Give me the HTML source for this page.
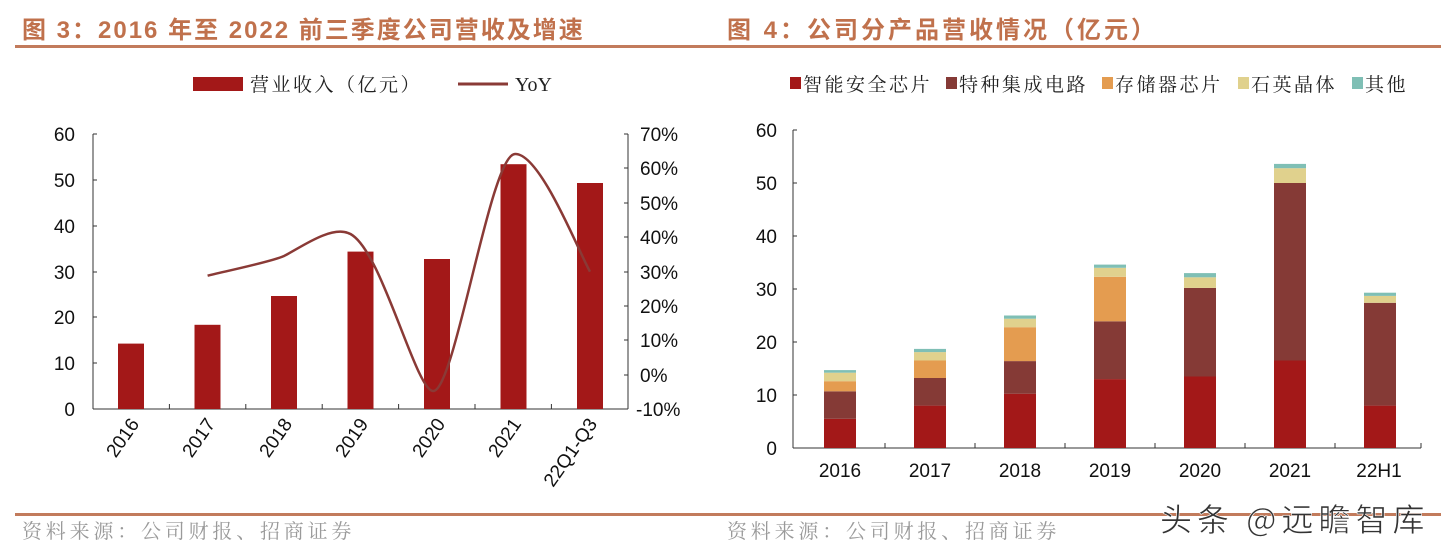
<!DOCTYPE html>
<html><head><meta charset="utf-8"><style>
html,body{margin:0;padding:0;background:#fff;}
svg{display:block;font-family:"Liberation Sans","Noto Sans CJK SC",sans-serif;}
.cn{font-family:"Noto Serif CJK SC","Noto Sans CJK SC",serif;}
</style></head><body>
<svg width="1456" height="556" viewBox="0 0 1456 556" xmlns="http://www.w3.org/2000/svg">
<text x="22" y="38" font-size="24" letter-spacing="2" font-weight="bold" fill="#c0714c" font-family="Liberation Sans,'Noto Sans CJK SC',sans-serif">图 3：2016 年至 2022 前三季度公司营收及增速</text>
<text x="727" y="38" font-size="24" letter-spacing="3" font-weight="bold" fill="#c0714c" font-family="Liberation Sans,'Noto Sans CJK SC',sans-serif">图 4：公司分产品营收情况（亿元）</text>
<rect x="15" y="45" width="1426" height="3" fill="#c27b5c"/>
<rect x="15" y="513" width="1426" height="3" fill="#c27b5c"/>
<text x="22" y="538" font-size="20" letter-spacing="3.8" fill="#9a9a9a" class="cn">资料来源：公司财报、招商证券</text>
<text x="727" y="538" font-size="20" letter-spacing="3.8" fill="#9a9a9a" class="cn">资料来源：公司财报、招商证券</text>
<text x="1160" y="531" font-size="32" letter-spacing="5" fill="#333" stroke="#fff" stroke-width="0.6" font-family="'Noto Sans CJK SC',sans-serif">头条 @远瞻智库</text>

<rect x="193" y="77" width="50" height="14" fill="#a31818"/>
<text x="250" y="91" font-size="19" letter-spacing="2.5" fill="#222" class="cn">营业收入（亿元）</text>
<line x1="458" y1="84" x2="508" y2="84" stroke="#8a3a36" stroke-width="3"/>
<text x="515" y="91" font-size="20" fill="#222" font-family="Liberation Serif,serif">YoY</text>

<g stroke="#333" stroke-width="1" fill="none">
<line x1="93" y1="134" x2="93" y2="409"/>
<line x1="628" y1="134" x2="628" y2="409"/>
<line x1="93" y1="409" x2="628" y2="409"/>
</g>
<g stroke="#333" stroke-width="1">
<line x1="93" y1="134" x2="97" y2="134"/><line x1="93" y1="180" x2="97" y2="180"/><line x1="93" y1="226" x2="97" y2="226"/><line x1="93" y1="272" x2="97" y2="272"/><line x1="93" y1="317" x2="97" y2="317"/><line x1="93" y1="363" x2="97" y2="363"/>
<line x1="624" y1="134" x2="628" y2="134"/><line x1="624" y1="168" x2="628" y2="168"/><line x1="624" y1="203" x2="628" y2="203"/><line x1="624" y1="237" x2="628" y2="237"/><line x1="624" y1="272" x2="628" y2="272"/><line x1="624" y1="306" x2="628" y2="306"/><line x1="624" y1="340" x2="628" y2="340"/><line x1="624" y1="375" x2="628" y2="375"/>
<line x1="169.4" y1="409" x2="169.4" y2="404"/><line x1="245.8" y1="409" x2="245.8" y2="404"/><line x1="322.2" y1="409" x2="322.2" y2="404"/><line x1="398.6" y1="409" x2="398.6" y2="404"/><line x1="475" y1="409" x2="475" y2="404"/><line x1="551.4" y1="409" x2="551.4" y2="404"/>
</g>
<g font-size="19" fill="#111" text-anchor="end">
<text x="75" y="141">60</text><text x="75" y="187">50</text><text x="75" y="233">40</text><text x="75" y="279">30</text><text x="75" y="324">20</text><text x="75" y="370">10</text><text x="75" y="416">0</text>
</g>
<g font-size="19" fill="#111">
<text x="640" y="141">70%</text><text x="640" y="175">60%</text><text x="640" y="210">50%</text><text x="640" y="244">40%</text><text x="640" y="279">30%</text><text x="640" y="313">20%</text><text x="640" y="347">10%</text><text x="640" y="382">0%</text><text x="636" y="416">-10%</text>
</g>
<g fill="#a31818">
<rect x="118" y="343.6" width="26" height="65.4"/>
<rect x="194.5" y="324.8" width="26" height="84.2"/>
<rect x="271" y="296" width="26" height="113"/>
<rect x="347.5" y="251.6" width="26" height="157.4"/>
<rect x="424" y="259" width="26" height="150"/>
<rect x="500.5" y="164.2" width="26" height="244.8"/>
<rect x="577" y="183" width="26" height="226"/>
</g>
<path d="M207.6,275.7 C220,272.4 271,262 284,256 C300,248 330,226 348,233 C380,243 415,390 433,391 C455,392 490,155 515,154 C540,153 578,250 590,271.7" fill="none" stroke="#8a3a36" stroke-width="2.5"/>
<g font-size="19" fill="#111" text-anchor="end">
<text transform="translate(140,424) rotate(-55)">2016</text>
<text transform="translate(216,424) rotate(-55)">2017</text>
<text transform="translate(293,424) rotate(-55)">2018</text>
<text transform="translate(369,424) rotate(-55)">2019</text>
<text transform="translate(446,424) rotate(-55)">2020</text>
<text transform="translate(522,424) rotate(-55)">2021</text>
<text transform="translate(598,424) rotate(-55)">22Q1-Q3</text>
</g>

<g font-size="19" letter-spacing="2.5" fill="#222" class="cn">
<rect x="790" y="77" width="11" height="12" fill="#a31818"/><text x="803" y="91">智能安全芯片</text>
<rect x="946" y="77" width="11" height="12" fill="#853a36"/><text x="959" y="91">特种集成电路</text>
<rect x="1102" y="77" width="11" height="12" fill="#e49c50"/><text x="1115" y="91">存储器芯片</text>
<rect x="1238" y="77" width="11" height="12" fill="#e0d18d"/><text x="1251" y="91">石英晶体</text>
<rect x="1352" y="77" width="11" height="12" fill="#7fbfb5"/><text x="1365" y="91">其他</text>
</g>
<g stroke="#333" stroke-width="1">
<line x1="793" y1="130" x2="793" y2="448"/>
<line x1="793" y1="448" x2="1421" y2="448"/>
<line x1="793" y1="130" x2="797" y2="130"/><line x1="793" y1="183" x2="797" y2="183"/><line x1="793" y1="236" x2="797" y2="236"/><line x1="793" y1="289" x2="797" y2="289"/><line x1="793" y1="342" x2="797" y2="342"/><line x1="793" y1="395" x2="797" y2="395"/>
<line x1="885" y1="448" x2="885" y2="443"/><line x1="975" y1="448" x2="975" y2="443"/><line x1="1065" y1="448" x2="1065" y2="443"/><line x1="1155" y1="448" x2="1155" y2="443"/><line x1="1245" y1="448" x2="1245" y2="443"/><line x1="1335" y1="448" x2="1335" y2="443"/><line x1="1421" y1="448" x2="1421" y2="443"/>
</g>
<g font-size="19" fill="#111" text-anchor="end">
<text x="777" y="137">60</text><text x="777" y="190">50</text><text x="777" y="243">40</text><text x="777" y="296">30</text><text x="777" y="349">20</text><text x="777" y="402">10</text><text x="777" y="455">0</text>
</g>
<g font-size="19" fill="#111" text-anchor="middle">
<text x="840" y="477">2016</text><text x="930" y="477">2017</text><text x="1020" y="477">2018</text><text x="1110" y="477">2019</text><text x="1200" y="477">2020</text><text x="1290" y="477">2021</text><text x="1379" y="477">22H1</text>
</g>
<g>
<rect x="824" y="418.8" width="32" height="29.2" fill="#a31818"/>
<rect x="824" y="391.3" width="32" height="27.5" fill="#853a36"/>
<rect x="824" y="381.2" width="32" height="10.1" fill="#e49c50"/>
<rect x="824" y="372.7" width="32" height="8.5" fill="#e0d18d"/>
<rect x="824" y="370.1" width="32" height="2.6" fill="#7fbfb5"/>
<rect x="914" y="405.6" width="32" height="42.4" fill="#a31818"/>
<rect x="914" y="378" width="32" height="27.6" fill="#853a36"/>
<rect x="914" y="360.5" width="32" height="17.5" fill="#e49c50"/>
<rect x="914" y="352.1" width="32" height="8.4" fill="#e0d18d"/>
<rect x="914" y="348.9" width="32" height="3.2" fill="#7fbfb5"/>
<rect x="1004" y="393.7" width="32" height="54.3" fill="#a31818"/>
<rect x="1004" y="361.1" width="32" height="32.6" fill="#853a36"/>
<rect x="1004" y="327.2" width="32" height="33.9" fill="#e49c50"/>
<rect x="1004" y="318.7" width="32" height="8.5" fill="#e0d18d"/>
<rect x="1004" y="315.5" width="32" height="3.2" fill="#7fbfb5"/>
<rect x="1094" y="379.1" width="32" height="68.9" fill="#a31818"/>
<rect x="1094" y="321.3" width="32" height="57.8" fill="#853a36"/>
<rect x="1094" y="276.8" width="32" height="44.5" fill="#e49c50"/>
<rect x="1094" y="267.8" width="32" height="9" fill="#e0d18d"/>
<rect x="1094" y="264.6" width="32" height="3.2" fill="#7fbfb5"/>
<rect x="1184" y="376.5" width="32" height="71.5" fill="#a31818"/>
<rect x="1184" y="287.9" width="32" height="88.6" fill="#853a36"/>
<rect x="1184" y="277.3" width="32" height="10.6" fill="#e0d18d"/>
<rect x="1184" y="273.1" width="32" height="4.2" fill="#7fbfb5"/>
<rect x="1274" y="360.5" width="32" height="87.5" fill="#a31818"/>
<rect x="1274" y="183" width="32" height="177.5" fill="#853a36"/>
<rect x="1274" y="168.2" width="32" height="14.8" fill="#e0d18d"/>
<rect x="1274" y="163.9" width="32" height="4.3" fill="#7fbfb5"/>
<rect x="1364" y="405.6" width="32" height="42.4" fill="#a31818"/>
<rect x="1364" y="302.8" width="32" height="102.8" fill="#853a36"/>
<rect x="1364" y="295.9" width="32" height="6.9" fill="#e0d18d"/>
<rect x="1364" y="292.7" width="32" height="3.2" fill="#7fbfb5"/>
</g>
</svg>
</body></html>
